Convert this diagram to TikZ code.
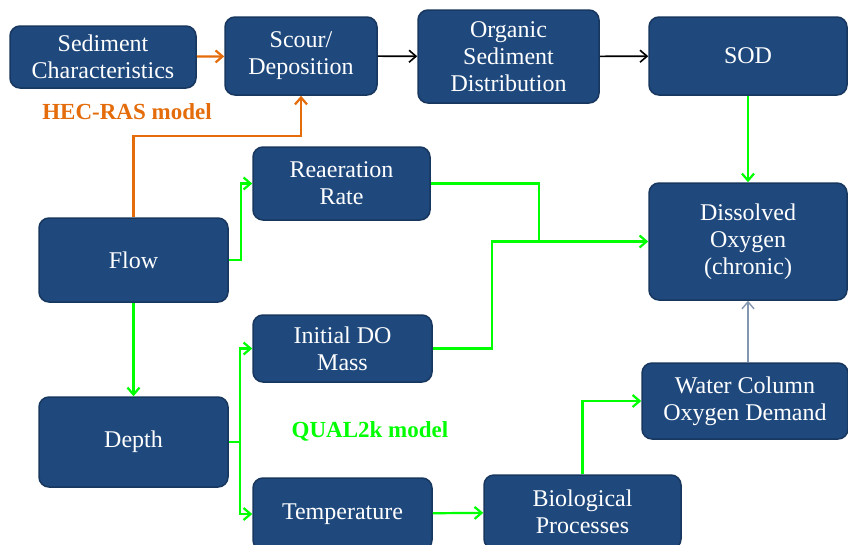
\documentclass[tikz,border=0pt]{standalone}
\usepackage{fontspec}
\setmainfont{Liberation Serif}
\usetikzlibrary{arrows.meta}

\definecolor{boxblue}{HTML}{1F497D}
\definecolor{boxedge}{HTML}{17375E}
\definecolor{hecorange}{HTML}{E46C0A}
\definecolor{qualgreen}{HTML}{00FF00}
\definecolor{linkgray}{HTML}{8497B0}

\begin{document}
\begin{tikzpicture}[x=1pt,y=-1pt,
  stage/.style={draw=boxedge,line width=1.5pt,fill=boxblue,rounded corners=10pt,
    text=white,align=center,font=\fontsize{24}{27}\selectfont},
  tip/.style={-{Straight Barb[length=7pt,width=12pt]}},
  hecflow/.style={hecorange,line width=2.2pt},
  qualflow/.style={qualgreen,line width=2.2pt},
  plainflow/.style={black,line width=1.6pt},
  modellabel/.style={font=\bfseries\fontsize{23}{26}\selectfont}]

% Page frame
\clip (0,0) rectangle (848,544);
\fill[white] (0,0) rectangle (848,544);

% Sediment chain (top row)
\node[stage,minimum width=186,minimum height=62] (sedchar) at (103,57) {Sediment\\Characteristics};
\node[stage,minimum width=152,minimum height=78] (scour) at (301,56) {Scour/\\Deposition};
\node[stage,minimum width=181,minimum height=93] (orgsed) at (508.5,56.5) {Organic\\Sediment\\Distribution};
\node[stage,minimum width=198,minimum height=78] (sod) at (748,56) {SOD};

% Hydraulics
\node[stage,minimum width=189,minimum height=84] (flow) at (133.5,260) {Flow};
\node[stage,minimum width=189,minimum height=90] (depth) at (133.5,442) {Depth};

% Water quality
\node[stage,minimum width=177,minimum height=73] (reaer) at (341.5,183.5) {Reaeration\\Rate};
\node[stage,minimum width=179,minimum height=67] (initdo) at (342.5,348.5) {Initial DO\\Mass};
\node[stage,minimum width=179,minimum height=72] (temp) at (342.5,514) {Temperature};
\node[stage,minimum width=197,minimum height=74] (bio) at (582.5,512) {Biological\\Processes};
\node[stage,minimum width=206,minimum height=76] (wcod) at (745,401) {Water Column\\Oxygen Demand};
\node[stage,minimum width=198,minimum height=117] (dox) at (748,241.5) {Dissolved\\Oxygen\\(chronic)};

% Model labels
\node[modellabel,text=hecorange] (heclabel) at (127,112) {HEC-RAS model};
\node[modellabel,text=qualgreen] (quallabel) at (370,431) {QUAL2k model};

% HEC-RAS links
\draw[hecflow,tip] (sedchar) -- (scour);
\draw[hecflow,tip] (flow.north) -- ++(0,-81) -| (scour.south);
\draw[plainflow,tip] (scour) -- (orgsed);
\draw[plainflow,tip] (orgsed) -- (sod);

% QUAL2k links
\coordinate (join) at (539,241.5);
\coordinate (split) at (240,442);
\draw[qualflow,tip] (sod) -- (dox);
\draw[qualflow,tip] (flow.east) -- ++(12,0) |- (reaer.west);
\draw[qualflow] (reaer.east) -| (join);
\draw[qualflow,tip] (initdo.east) -- ++(59,0) |- (dox.west);
\draw[qualflow,tip] (flow) -- (depth);
\draw[qualflow] (depth.east) -- (split);
\draw[qualflow,tip] (split) |- (initdo.west);
\draw[qualflow,tip] (split) |- (temp.west);
\draw[qualflow,tip] (temp) -- (bio);
\draw[qualflow,tip] (bio.north) |- (wcod.west);
\draw[linkgray,line width=1.4pt,tip] (dox.south |- wcod.north) -- (dox.south);

\end{tikzpicture}
\end{document}
